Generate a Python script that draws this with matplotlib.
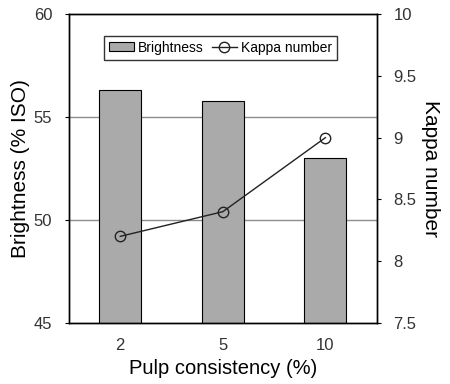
import matplotlib
matplotlib.use("Agg")
import numpy as np
from matplotlib import pyplot as plt

plt.rcParams['font.family'] = ['Liberation Sans', 'DejaVu Sans']

consistency = ['2', '5', '10']
brightness = [56.3, 55.8, 53.0]
kappa = [8.2, 8.4, 9.0]

fig = plt.figure(figsize=(4.5, 3.84), dpi=100)
ax = fig.add_axes([0.1533, 0.1596, 0.6837, 0.8032])
ax2 = ax.twinx()

x = np.arange(len(consistency))
ax.set_zorder(1)
ax2.set_zorder(2)
ax.patch.set_visible(False)

for yv in [50, 55]:
    ax.axhline(yv, color='#8c8c8c', lw=1, zorder=0)
bars = ax.bar(x, brightness, width=0.41, color='#aaaaaa', edgecolor='black',
              linewidth=0.8, zorder=2, label='Brightness')
ln, = ax2.plot(x, kappa, color='#222222', lw=1, marker='o', markersize=7.5,
               markerfacecolor='none', markeredgecolor='#222222',
               markeredgewidth=1, label='Kappa number')

ax.set_xlim(-0.5, 2.5)
ax.set_ylim(45, 60)
ax.set_yticks([45, 50, 55, 60])
ax2.set_ylim(7.5, 10)
ax2.set_yticks([7.5, 8, 8.5, 9, 9.5, 10])
ax2.set_yticklabels(['7.5', '8', '8.5', '9', '9.5', '10'])
ax.set_xticks(x)
ax.set_xticklabels(consistency)

ax.tick_params(axis='x', length=0, pad=11, labelsize=12, labelcolor='#333333')
ax.tick_params(axis='y', direction='out', length=3, pad=9, labelsize=12,
               labelcolor='#333333')
ax2.tick_params(axis='y', direction='out', length=3, pad=9, labelsize=12,
                labelcolor='#333333')

for a in (ax, ax2):
    for s in a.spines.values():
        s.set_linewidth(1)
        s.set_color('black')

ax.set_xlabel('Pulp consistency (%)', fontsize=14.5, labelpad=4)
ax.set_ylabel('Brightness (% ISO)', fontsize=15, labelpad=3)
ax2.set_ylabel('Kappa number', fontsize=15, rotation=270, labelpad=17)

leg = ax2.legend([bars, ln], ['Brightness', 'Kappa number'], ncol=2,
                 loc='upper center', bbox_to_anchor=(0.492, 0.93),
                 fontsize=10, frameon=True, fancybox=False, edgecolor='black',
                 handlelength=1.8, handleheight=0.6, handletextpad=0.3,
                 columnspacing=0.6, borderpad=0.35, borderaxespad=0)
leg.get_frame().set_linewidth(1)

fig.savefig('out.png', dpi=100)
